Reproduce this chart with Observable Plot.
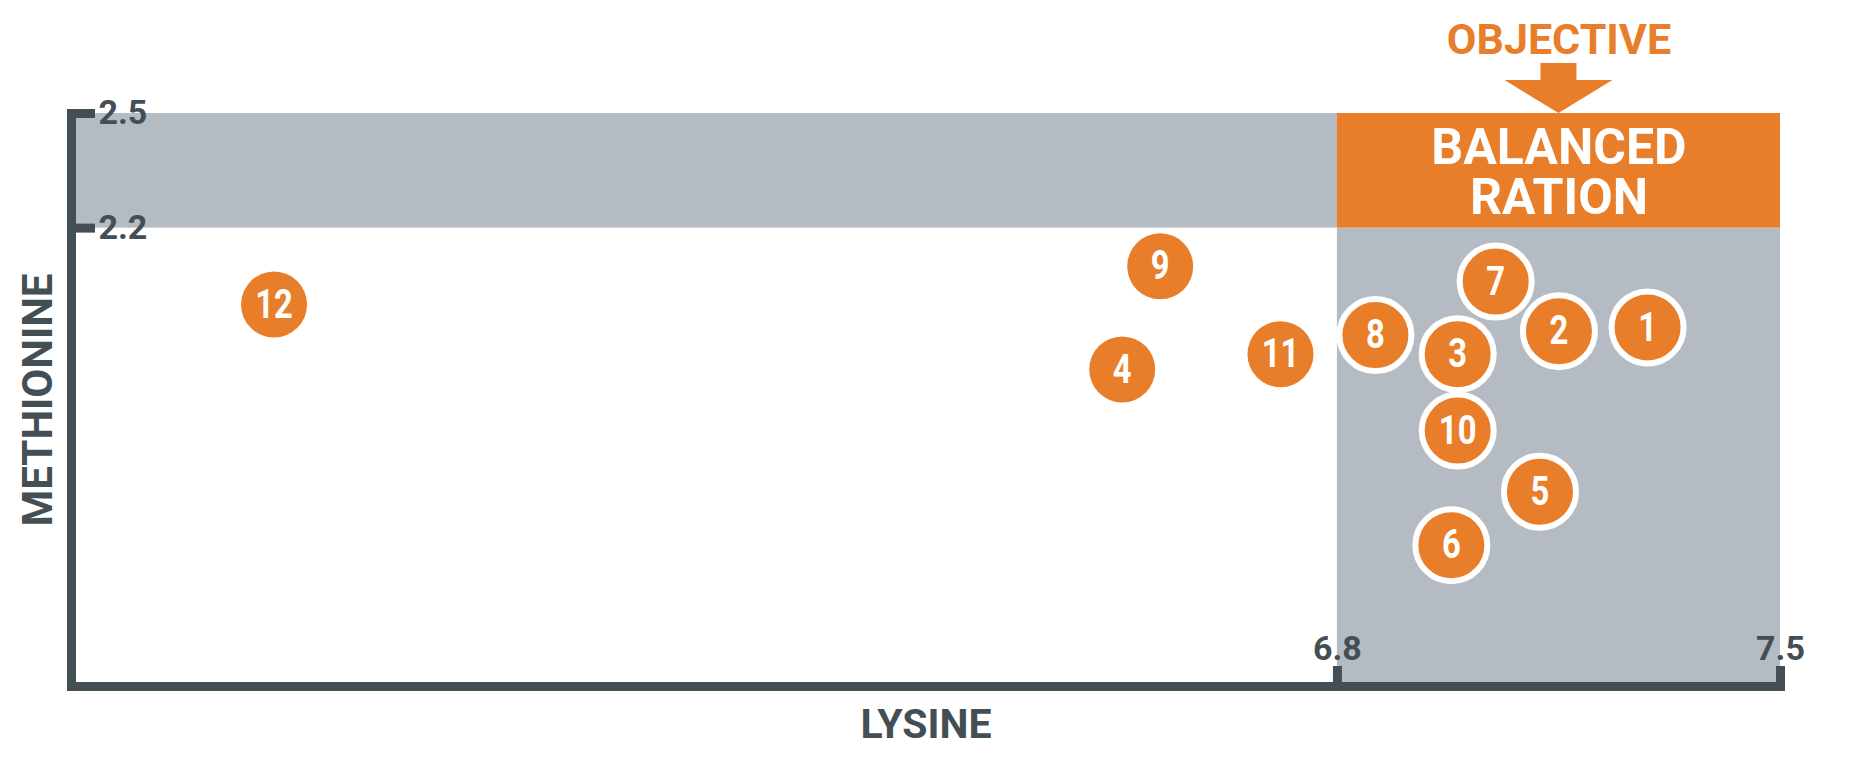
<!DOCTYPE html>
<html>
<head>
<meta charset="utf-8">
<script src="https://cdn.jsdelivr.net/npm/d3@7"></script>
<script src="https://cdn.jsdelivr.net/npm/@observablehq/plot@0.6"></script>
<style>
  html, body { margin: 0; padding: 0; background: #ffffff; }
  #chart svg { display: block; }
</style>
</head>
<body>
<div id="chart"></div>
<script>
// ---- data ----
const ids        = ["1", "2", "3", "4", "5", "6", "7", "8", "9", "10", "11", "12"];
const lysine     = [7.29, 7.15, 6.99, 6.46, 7.12, 6.98, 7.05, 6.86, 6.52, 6.99, 6.71, 5.12];
const methionine = [1.94, 1.93, 1.87, 1.83, 1.51, 1.37, 2.06, 1.92, 2.10, 1.67, 1.87, 2.00];

const xDomain = [4.8, 7.5];
const yDomain = [1.0, 2.5];
const xTicks = [6.8, 7.5];
const yTicks = [2.2, 2.5];
const xTickLabels = ["6.8", "7.5"];
const yTickLabels = ["2.2", "2.5"];
const balancedLysine = [6.8, 7.5];
const balancedMethionine = [2.2, 2.5];

const objectiveLabel = "OBJECTIVE";
const zoneLabel = "BALANCED\nRATION";
const xLabel = "LYSINE";
const yLabel = "METHIONINE";

// ---- colours ----
const ORANGE = "#e87d2a";
const GRAY = "#b4bbc2";
const DARK = "#434e55";

const points = ids.map((id, i) => ({
  id, lysine: lysine[i], methionine: methionine[i],
  inRange: lysine[i] >= balancedLysine[0]
}));

const zones = [
  {x1: xDomain[0], x2: balancedLysine[0], y1: balancedMethionine[0], y2: balancedMethionine[1], fill: GRAY},
  {x1: balancedLysine[0], x2: balancedLysine[1], y1: yDomain[0], y2: balancedMethionine[0], fill: GRAY},
  {x1: balancedLysine[0], x2: balancedLysine[1], y1: balancedMethionine[0], y2: balancedMethionine[1], fill: ORANGE}
];

const zoneCenterX = d3.mean(balancedLysine);
const zoneCenterY = d3.mean(balancedMethionine);

function arrowMark(index, scales) {
  const cx = (scales.x(balancedLysine[0]) + scales.x(balancedLysine[1])) / 2;
  const ty = scales.y(balancedMethionine[1]);
  const d = `M${cx - 18},${ty - 50}H${cx + 18}V${ty - 33}H${cx + 54}L${cx},${ty}L${cx - 54},${ty - 33}H${cx - 18}Z`;
  const g = d3.create("svg:g");
  g.append("path").attr("d", d).attr("fill", ORANGE);
  return g.node();
}

const chart = Plot.plot({
  width: 1864,
  height: 757,
  marginLeft: 71,
  marginRight: 84,
  marginTop: 113,
  marginBottom: 71,
  style: {fontFamily: "Roboto, 'Liberation Sans', sans-serif", background: "#ffffff", overflow: "visible"},
  x: {domain: xDomain},
  y: {domain: yDomain},
  marks: [
    Plot.rect(zones, {x1: "x1", x2: "x2", y1: "y1", y2: "y2", fill: d => d.fill}),
    // axis lines
    Plot.frame({anchor: "left", stroke: DARK, strokeWidth: 9, strokeLinecap: "square"}),
    Plot.frame({anchor: "bottom", stroke: DARK, strokeWidth: 9, strokeLinecap: "square"}),
    // ticks (pointing inward)
    Plot.axisY(yTicks, {anchor: "left", tickSize: 24, dx: 24, stroke: DARK, strokeWidth: 9, fill: "none", label: null}),
    Plot.axisX(xTicks, {anchor: "bottom", tickSize: 20, dy: -20, stroke: DARK, strokeWidth: 9, fill: "none", label: null}),
    // tick labels
    Plot.text(yTicks, {y: d => d, text: (d, i) => yTickLabels[i], frameAnchor: "left", dx: 27, textAnchor: "start",
      lineAnchor: "middle", fontSize: 34, fontWeight: 700, fill: DARK}),
    Plot.text(xTicks, {x: d => d, text: (d, i) => xTickLabels[i], frameAnchor: "bottom", dy: -37,
      lineAnchor: "middle", fontSize: 34, fontWeight: 700, fill: DARK}),
    // zone label
    Plot.text([zoneLabel], {x: () => zoneCenterX, y: () => zoneCenterY, text: d => d, dy: 2, lineHeight: 1,
      lineAnchor: "middle", fontSize: 50, fontWeight: 700, fill: "#ffffff"}),
    // objective
    arrowMark,
    Plot.text([objectiveLabel], {x: () => zoneCenterX, text: d => d, frameAnchor: "top", dy: -73,
      lineAnchor: "middle", fontSize: 43, fontWeight: 700, fill: ORANGE}),
    // points
    Plot.dot(points, {filter: d => !d.inRange, x: "lysine", y: "methionine", r: 33, fill: ORANGE}),
    Plot.dot(points, {filter: d => d.inRange, x: "lysine", y: "methionine", r: 36, fill: ORANGE, stroke: "#ffffff", strokeWidth: 6}),
    Plot.text(points, {x: "lysine", y: "methionine", text: "id", fill: "#fffffe", fontSize: 41, fontWeight: 700,
      fontFamily: "Roboto, sans-serif", lineAnchor: "middle"}),
    // axis titles
    Plot.text([xLabel], {text: d => d, frameAnchor: "bottom", dy: 38, lineAnchor: "middle",
      fontSize: 41, fontWeight: 700, fill: DARK}),
    Plot.text([yLabel], {text: d => d, frameAnchor: "left", rotate: -90, dx: -33, textAnchor: "middle", lineAnchor: "middle",
      fontSize: 42, fontWeight: 700, fill: DARK, letterSpacing: 2.5})
  ]
});

// condensed look for the numbers inside the dots
d3.select(chart).selectAll("text").each(function () {
  const g = this.closest("g");
  const fs = (g && g.getAttribute("font-size")) || this.getAttribute("font-size");
  const fill = (g && g.getAttribute("fill")) || this.getAttribute("fill");
  if (String(fs) === "41" && String(fill).toLowerCase() === "#fffffe" && ids.includes(this.textContent)) {
    const x = this.getAttribute("x"), y = this.getAttribute("y");
    const t = this.getAttribute("transform") || (x != null ? `translate(${x},${y})` : "");
    if (x != null) { this.removeAttribute("x"); this.removeAttribute("y"); }
    this.setAttribute("transform", t + " scale(0.8,1)");
  }
});

document.getElementById("chart").appendChild(chart);
</script>
</body>
</html>
